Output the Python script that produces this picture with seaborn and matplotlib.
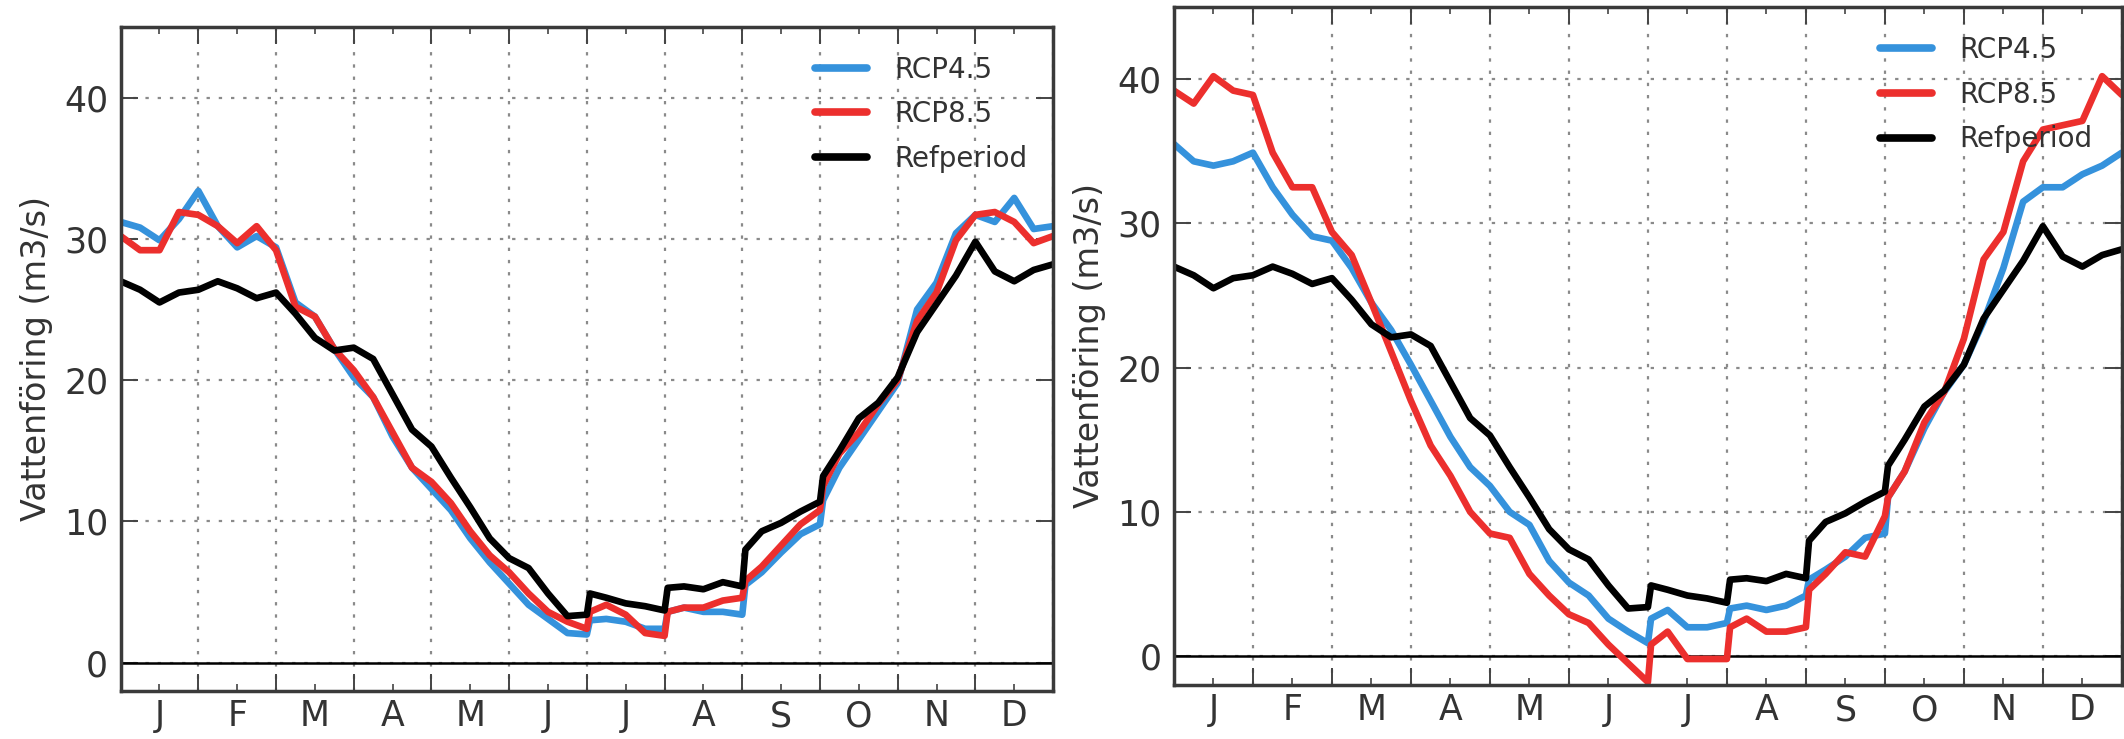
import numpy as np
import pandas as pd
import matplotlib
matplotlib.use("Agg")
import matplotlib.pyplot as plt
import seaborn as sns

# ---------------- data ----------------
month_labels = ["J", "F", "M", "A", "M", "J", "J", "A", "S", "O", "N", "D"]
# sample positions in months from 1 Jan (0) to 31 Dec (12): every quarter month,
# plus one extra sample just after each step jump seen at a month start
quarter_pos = np.linspace(0, 12, 49)
jump_pos = [6.04, 7.04, 8.04, 9.04]
months_pos = np.sort(np.concatenate([quarter_pos, jump_pos]))

ref_flow = [27.0, 26.4, 25.5, 26.2, 26.4, 27.0, 26.5, 25.8, 26.2, 24.7, 23.0, 22.1,
            22.3, 21.5, 19.0, 16.5, 15.3, 13.1, 11.0, 8.8, 7.4, 6.7, 4.9, 3.3,
            3.4, 4.9, 4.6, 4.2, 4.0,
            3.7, 5.3, 5.4, 5.2, 5.7,
            5.4, 8.0, 9.3, 9.9, 10.7,
            11.4, 13.2, 15.0, 17.3, 18.4,
            20.2, 23.4, 25.4, 27.4, 29.8, 27.7, 27.0, 27.8, 28.2]

left_rcp45 = [31.2, 30.8, 29.9, 31.4, 33.4, 30.9, 29.4, 30.2, 29.4, 25.5, 24.5, 22.2,
              20.2, 18.8, 16.0, 13.8, 12.3, 10.8, 8.8, 7.1, 5.6, 4.1, 3.1, 2.1,
              2.0, 3.0, 3.1, 2.9, 2.4,
              2.4, 3.6, 3.9, 3.6, 3.6,
              3.4, 5.5, 6.4, 7.8, 9.1,
              9.8, 11.5, 13.8, 15.8, 17.8,
              19.8, 25.0, 26.9, 30.4, 31.7, 31.2, 32.9, 30.7, 30.9]

left_rcp85 = [30.2, 29.2, 29.2, 31.9, 31.7, 30.9, 29.7, 30.9, 29.2, 25.2, 24.5, 22.2,
              20.7, 18.8, 16.3, 13.8, 12.8, 11.3, 9.3, 7.6, 6.4, 4.9, 3.6, 2.9,
              2.4, 3.6, 4.1, 3.4, 2.1,
              1.9, 3.6, 3.9, 3.9, 4.4,
              4.6, 5.8, 6.8, 8.3, 9.8,
              10.8, 12.5, 14.8, 16.3, 18.3,
              20.0, 24.2, 26.2, 29.9, 31.7, 31.9, 31.2, 29.7, 30.2]

right_rcp45 = [35.5, 34.3, 34.0, 34.3, 34.9, 32.5, 30.6, 29.1, 28.8, 26.9, 24.5, 22.6,
               20.2, 17.7, 15.2, 13.1, 11.8, 10.0, 9.1, 6.6, 5.1, 4.2, 2.6, 1.7,
               0.9, 2.6, 3.2, 2.0, 2.0,
               2.3, 3.3, 3.5, 3.2, 3.5,
               4.2, 5.3, 6.0, 6.9, 8.2,
               8.5, 11.0, 12.8, 15.8, 18.3,
               20.2, 23.2, 26.9, 31.5, 32.5, 32.5, 33.4, 34.0, 34.9]

right_rcp85 = [39.2, 38.3, 40.2, 39.2, 38.9, 34.9, 32.5, 32.5, 29.4, 27.8, 24.5, 21.1,
               17.7, 14.6, 12.5, 10.0, 8.5, 8.2, 5.7, 4.2, 2.9, 2.3, 0.8, -0.5,
               -1.8, 0.8, 1.7, -0.2, -0.2,
               -0.2, 2.0, 2.6, 1.7, 1.7,
               2.0, 4.6, 5.7, 7.2, 6.9,
               9.7, 11.0, 12.8, 16.2, 18.3,
               22.0, 27.5, 29.4, 34.3, 36.5, 36.8, 37.1, 40.2, 38.9]

series_names = ["RCP4.5", "RCP8.5", "Refperiod"]
y_ticks = [0, 10, 20, 30, 40]
y_label = "Vattenföring (m3/s)"

# ---------------- style ----------------
sns.set_theme(style="ticks")
plt.rcParams['font.family'] = ['DejaVu Sans']

palette = {"RCP4.5": "#3592dc", "RCP8.5": "#ec2f2d", "Refperiod": "#000000"}
text_col = "#333333"


def make_df(rcp45, rcp85, ref):
    frames = []
    for name, vals in zip(series_names, [rcp45, rcp85, ref]):
        frames.append(pd.DataFrame({"month": months_pos, "flow": vals, "scenario": name}))
    return pd.concat(frames, ignore_index=True)


fig = plt.figure(figsize=(21.24, 7.39), dpi=100)
ax1 = fig.add_axes([0.0568, 0.0650, 0.4390, 0.8985])
ax2 = fig.add_axes([0.5527, 0.0731, 0.4463, 0.9175])

panels = [(ax1, make_df(left_rcp45, left_rcp85, ref_flow)),
          (ax2, make_df(right_rcp45, right_rcp85, ref_flow))]

for ax, df in panels:
    sns.lineplot(data=df, x="month", y="flow", hue="scenario",
                 hue_order=series_names, palette=palette, linewidth=4.8,
                 ax=ax, legend=False, sort=False)
    ax.axhline(0, color="black", lw=1.8, zorder=1)
    ax.set_xlim(0, 12)
    ax.set_ylim(-2, 45)
    ax.set_xticks(range(13))
    ax.set_xticklabels([])
    ax.set_xticks(np.arange(0.5, 12, 1), minor=True)
    ax.set_xticklabels(month_labels, minor=True)
    ax.set_yticks(y_ticks)
    ax.set_yticklabels([str(v) for v in y_ticks])
    ax.grid(True, which="major", linestyle=(0, (1.5, 4)), color="#8a8a8a", lw=1.6)
    ax.tick_params(which="major", direction="in", length=12, width=1.4,
                   top=True, right=True, bottom=True, left=True,
                   labelsize=25, labelcolor=text_col, color="#444444", pad=9)
    ax.tick_params(axis="x", which="minor", direction="in", length=5, width=1.2,
                   top=True, bottom=True, labelsize=25, labelcolor=text_col,
                   color="#444444", pad=6)
    ax.tick_params(axis="y", which="minor", left=False, right=False)
    for sp in ax.spines.values():
        sp.set_color("#3a3a3a")
        sp.set_linewidth(2.5)
    ax.set_xlabel("")
    ax.set_ylabel(y_label, fontsize=24, color=text_col, labelpad=8)

    handles = [plt.Line2D([], [], color=palette[n], lw=5.5) for n in series_names]
    ax.legend(handles, series_names, loc="upper left", bbox_to_anchor=(0.745, 0.957),
              frameon=False, fontsize=20, handlelength=1.85, handletextpad=1.0,
              labelspacing=0.6, borderpad=0, borderaxespad=0, labelcolor=text_col)

fig.savefig("out.png", dpi=100)
